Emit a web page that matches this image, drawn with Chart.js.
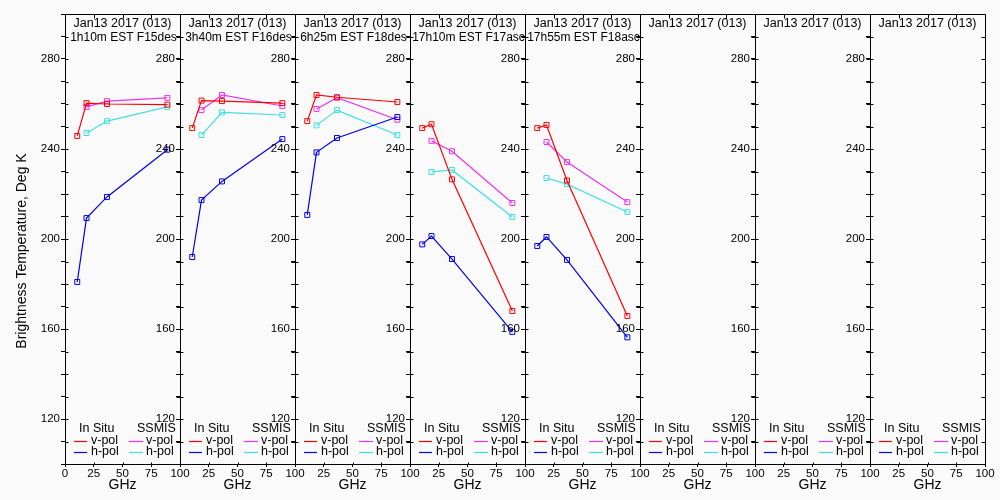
<!DOCTYPE html>
<html>
<head>
<meta charset="utf-8">
<script src="https://cdn.jsdelivr.net/npm/chart.js@4.4.1/dist/chart.umd.min.js"></script>
<style>
  body { margin: 0; background: #fafafa; }
  #wrap { position: relative; width: 1000px; height: 500px; overflow: hidden; }
  #wrap canvas { position: absolute; top: 0; }
</style>
</head>
<body>
<div id="wrap"></div>
<script>
const insituGHz = [10.65, 18.7, 36.5, 89];
const ssmisGHz = [18.7, 36.5, 89];

const panelDates = [
  "Jan13 2017 (013)", "Jan13 2017 (013)", "Jan13 2017 (013)", "Jan13 2017 (013)",
  "Jan13 2017 (013)", "Jan13 2017 (013)", "Jan13 2017 (013)", "Jan13 2017 (013)",
];
const panelTimes = [
  "1h10m EST F15des", "3h40m EST F16des", "6h25m EST F18des",
  "17h10m EST F17asc", "17h55m EST F18asc", "", "", "",
];

// in situ radiometer, v-pol / h-pol
const insituV = [
  [245.8, 260.4, 260.0, 259.7],
  [249.3, 261.5, 261.3, 260.4],
  [252.4, 264.0, 263.0, 260.9],
  [249.3, 251.0, 226.5, 168.0],
  [249.3, 250.7, 226.0, 165.8],
  [], [], [],
];
const insituH = [
  [180.9, 209.3, 218.7, 239.7],
  [192.0, 217.3, 225.6, 244.4],
  [210.7, 238.5, 244.9, 254.2],
  [197.6, 201.3, 191.1, 158.7],
  [196.9, 200.9, 190.7, 156.3],
  [], [], [],
];
// SSMIS, v-pol / h-pol
const ssmisV = [
  [258.7, 261.3, 262.7],
  [257.3, 264.0, 259.1],
  [257.8, 262.8, 253.0],
  [243.6, 239.0, 216.0],
  [243.1, 234.2, 216.4],
  [], [], [],
];
const ssmisH = [
  [247.1, 252.4, 258.7],
  [246.2, 256.3, 255.1],
  [250.5, 257.3, 246.2],
  [229.8, 230.7, 209.8],
  [227.1, 224.4, 212.0],
  [], [], [],
];

const yLabels = [120, 160, 200, 240, 280];

const RED = "#ff0000";
const BLUE = "#0000ee";
const MAGENTA = "#ee33ee";
const CYAN = "#40e0e0";
const FONT = "'Liberation Sans', Arial, sans-serif";

const toPoints = (xs, ys) => ys.map((v, k) => ({ x: xs[k], y: v }));

const line = (data, color) => ({
  data: data,
  borderColor: color,
  borderWidth: 1.2,
  pointStyle: "rect",
  pointRadius: 3.5,
  pointBorderWidth: 1,
  pointBorderColor: color,
  pointBackgroundColor: "rgba(0,0,0,0)",
  tension: 0,
});

const panelDeco = {
  id: "panelDeco",
  afterDraw(chart, args, opts) {
    const { ctx, chartArea: a } = chart;
    const x = chart.scales.x, y = chart.scales.y;
    const l = Math.round(a.left) + 0.5, r = Math.round(a.right) + 0.5;
    const t = Math.round(a.top) + 0.5, b = Math.round(a.bottom) + 0.5;
    ctx.save();
    ctx.strokeStyle = "#000";
    ctx.lineWidth = 1;
    ctx.beginPath();
    ctx.moveTo(l, t); ctx.lineTo(r, t); ctx.lineTo(r, b);
    y.ticks.forEach((tk) => {
      const py = Math.round(y.getPixelForValue(tk.value)) + 0.5;
      ctx.moveTo(l, py); ctx.lineTo(l + 3, py);
      ctx.moveTo(r, py); ctx.lineTo(r - 4, py);
    });
    x.ticks.forEach((tk) => {
      const px = Math.round(x.getPixelForValue(tk.value)) + 0.5;
      ctx.moveTo(px, b); ctx.lineTo(px, b - 2);
      if (tk.value > 0 && tk.value < 100) { ctx.moveTo(px, t); ctx.lineTo(px, t + 4); }
    });
    ctx.stroke();

    // titles inside the panel
    ctx.save();
    ctx.beginPath();
    ctx.rect(a.left, 0, a.width + 2, 60);
    ctx.clip();
    ctx.fillStyle = "#000";
    ctx.font = "12.5px " + FONT;
    ctx.textAlign = "center";
    ctx.textBaseline = "middle";
    const cx = (a.left + a.right) / 2;
    ctx.fillText(panelDates[opts.idx], cx, 24);
    ctx.font = "12px " + FONT;
    if (panelTimes[opts.idx]) ctx.fillText(panelTimes[opts.idx], cx + 1, 38);
    ctx.restore();

    // legend
    const pl = a.left;
    ctx.fillStyle = "#000";
    ctx.font = "12.5px " + FONT;
    ctx.textAlign = "left";
    ctx.textBaseline = "middle";
    ctx.fillText("In Situ", pl + 14, 429);
    ctx.fillText("SSMIS", pl + 72, 429);
    const rows = [
      [441, RED, MAGENTA, "v-pol"],
      [452, BLUE, CYAN, "h-pol"],
    ];
    rows.forEach(([ry, c1, c2, txt]) => {
      ctx.lineWidth = 1.2;
      ctx.strokeStyle = c1;
      ctx.beginPath(); ctx.moveTo(pl + 9, ry + 0.5); ctx.lineTo(pl + 22, ry + 0.5); ctx.stroke();
      ctx.strokeStyle = c2;
      ctx.beginPath(); ctx.moveTo(pl + 64, ry + 0.5); ctx.lineTo(pl + 78, ry + 0.5); ctx.stroke();
      ctx.fillText(txt, pl + 26, ry);
      ctx.fillText(txt, pl + 81, ry);
    });

    if (opts.idx === 0) {
      ctx.translate(22, 251);
      ctx.rotate(-Math.PI / 2);
      ctx.font = "14px " + FONT;
      ctx.textAlign = "center";
      ctx.fillText("Brightness Temperature, Deg K", 0, 0);
    }
    ctx.restore();
  },
};

const wrap = document.getElementById("wrap");

for (let i = 0; i < 8; i++) {
  const L = i === 0 ? 65 : 50;
  const R = 12;
  const plotLeft = 65 + 115 * i;
  const canvas = document.createElement("canvas");
  canvas.width = L + 115 + R;
  canvas.height = 500;
  canvas.style.left = plotLeft - L + "px";
  wrap.appendChild(canvas);

  new Chart(canvas, {
    type: "line",
    data: {
      datasets: [
        line(toPoints(insituGHz, insituV[i]), RED),
        line(toPoints(insituGHz, insituH[i]), BLUE),
        line(toPoints(ssmisGHz, ssmisV[i]), MAGENTA),
        line(toPoints(ssmisGHz, ssmisH[i]), CYAN),
      ],
    },
    options: {
      responsive: false,
      animation: false,
      devicePixelRatio: 1,
      layout: { padding: { top: 14, right: R, left: 0, bottom: 0 } },
      plugins: {
        legend: { display: false },
        tooltip: { enabled: false },
        panelDeco: { idx: i },
      },
      scales: {
        x: {
          type: "linear",
          min: 0,
          max: 100,
          afterFit: (s) => { s.height = 36; },
          border: { color: "#000", width: 1 },
          grid: { drawOnChartArea: false, color: "#000", tickLength: 3 },
          ticks: {
            stepSize: 25,
            autoSkip: false,
            maxRotation: 0,
            padding: 0,
            color: "#000",
            font: { family: FONT, size: 11.5 },
            callback: (v) => (i > 0 && v === 0 ? "" : String(v)),
          },
          title: {
            display: true,
            text: "GHz",
            color: "#000",
            font: { family: FONT, size: 14 },
            padding: { top: 0, bottom: 6 },
          },
        },
        y: {
          min: 100,
          max: 300,
          afterFit: (s) => { s.width = L; },
          border: { color: "#000", width: 1 },
          grid: { drawOnChartArea: false, color: "#000", tickLength: 4 },
          ticks: {
            stepSize: 10,
            autoSkip: false,
            padding: 1,
            color: "#000",
            font: { family: FONT, size: 11.5 },
            callback: (v) => (yLabels.includes(v) ? String(v) : ""),
          },
        },
      },
    },
    plugins: [panelDeco],
  });
}
</script>
</body>
</html>
